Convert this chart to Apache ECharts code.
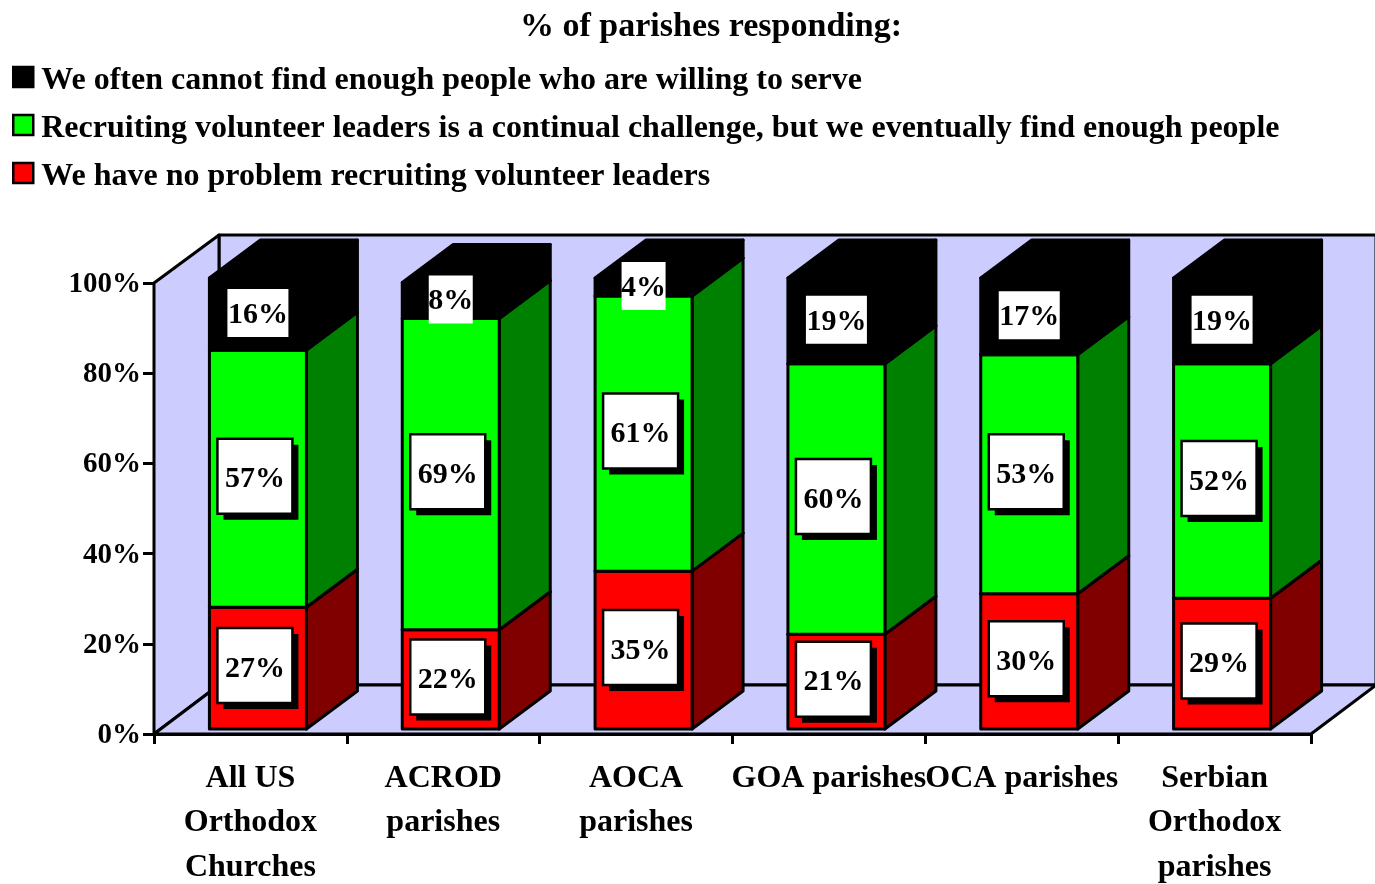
<!DOCTYPE html>
<html><head><meta charset="utf-8">
<style>html,body{margin:0;padding:0;background:#fff}#c{width:1375px;height:884px}</style>
<script src="https://cdn.jsdelivr.net/npm/echarts@6/dist/echarts.min.js"></script>
</head><body><div id="c"></div>
<script>
const titleText = '% of parishes responding:';
const categories = ['All US\nOrthodox\nChurches','ACROD\nparishes','AOCA\nparishes','GOA parishes','OCA parishes','Serbian\nOrthodox\nparishes'];
const seriesNames = ['We often cannot find enough people who are willing to serve',
  'Recruiting volunteer leaders is a continual challenge, but we eventually find enough people',
  'We have no problem recruiting volunteer leaders'];
const noProblem = [27,22,35,21,30,29];
const challenge = [57,69,61,60,53,52];
const cannotFind = [16,8,4,19,17,19];

const FONT = '"Liberation Serif"';
const DX = 51, DY = -38, WALL_DX = 65, WALL_DY = -49, LIFT = -5, SHIFT = 7.5;
const LW = 3;

function stackSeries(name, values, below, front, side, boxed){
  const data = values.map((v,i)=>[i, below[i], below[i]+v, v]);
  return {
    type:'custom', name, data, coordinateSystem:'cartesian2d', clip:false, silent:true,
    itemStyle:{color:front},
    encode:{x:0,y:[1,2]},
    renderItem(params, api){
      const i = api.value(0), a = api.value(1), b = api.value(2), v = api.value(3);
      const w = 97;
      const cx = api.coord([i,0])[0] + SHIFT;
      const y0 = api.coord([i,a])[1] + LIFT, y1 = api.coord([i,b])[1] + LIFT;
      const xl = cx - w/2, xr = cx + w/2;
      const sh = {stroke:'#000', lineWidth:LW, lineJoin:'round'};
      const kids = [
        {type:'polygon', shape:{points:[[xl,y1],[xr,y1],[xr+DX,y1+DY],[xl+DX,y1+DY]]}, style:{fill:side, ...sh}},
        {type:'polygon', shape:{points:[[xr,y0],[xr+DX,y0+DY],[xr+DX,y1+DY],[xr,y1]]}, style:{fill:side, ...sh}},
        {type:'rect', shape:{x:xl,y:y1,width:w,height:y0-y1}, style:{fill:front, ...sh}}
      ];
      const my = (y0+y1)/2;
      const label = v + '%';
      if (boxed){
        const bx = cx-40.5, by = my-40;
        kids.push({type:'rect', z2:100, shape:{x:bx+6,y:by+6,width:75,height:75}, style:{fill:'#000'}});
        kids.push({type:'rect', z2:101, shape:{x:bx,y:by,width:75,height:75}, style:{fill:'#fff',stroke:'#000',lineWidth:2.5}});
        kids.push({type:'text', z2:102, style:{x:bx+37.5,y:by+41,text:label,align:'center',verticalAlign:'middle',fill:'#000',font:'bold 30px '+FONT}});
      } else {
        const bw = v<10 ? 44 : 61;
        const by = my-25;
        kids.push({type:'rect', z2:101, shape:{x:cx-bw/2,y:by,width:bw,height:48}, style:{fill:'#fff'}});
        kids.push({type:'text', z2:102, style:{x:cx,y:by+26,text:label,align:'center',verticalAlign:'middle',fill:'#000',font:'bold 30px '+FONT}});
      }
      return {type:'group', children:kids};
    }
  };
}

const wallSeries = {
  type:'custom', name:'walls', data:[[0,0]], clip:false, silent:true,
  renderItem(params, api){
    const band = api.size([1,0])[0];
    const n = categories.length;
    const x0 = api.coord([0,0])[0] - band/2, x1 = api.coord([n-1,0])[0] + band/2;
    const yb = api.coord([0,0])[1], yt = api.coord([0,100])[1];
    const s = {stroke:'#000', lineWidth:LW, lineJoin:'round'};
    const bx = x0+WALL_DX, bx1 = x1+WALL_DX, byb = yb+WALL_DY, byt = yt+WALL_DY+1;
    return {type:'group', children:[
      {type:'polygon', shape:{points:[[bx,byt],[bx1,byt],[bx1,byb],[bx,byb]]}, style:{fill:'#CCCCFF', ...s}},
      {type:'polygon', shape:{points:[[x0,yt],[bx,byt],[bx,byb],[x0,yb]]}, style:{fill:'#CCCCFF', ...s}},
      {type:'polygon', shape:{points:[[x0,yb],[bx,byb],[bx1,byb],[x1,yb]]}, style:{fill:'#CCCCFF', ...s}}
    ]};
  }
};

const base = noProblem.map(()=>0);
const mid = noProblem.slice();
const upper = noProblem.map((v,i)=>v+challenge[i]);

const chart = echarts.init(document.getElementById('c'), null, {renderer:'canvas'});
chart.setOption({
  animation:false,
  backgroundColor:'#fff',
  title:{text:titleText, left:711, top:10, padding:0, textAlign:'center',
    textStyle:{fontFamily:FONT,fontWeight:'bold',fontSize:34,color:'#000'}},
  legend:{orient:'vertical', left:12, top:63, padding:0, itemWidth:20, itemHeight:28, itemGap:12, selectedMode:false,
    icon:'path://M0,0H20V20H0Z M0,28',
    textStyle:{fontFamily:FONT,fontWeight:'bold',fontSize:32,color:'#000',padding:[0,0,0,3],lineHeight:36},
    itemStyle:{borderColor:'#000',borderWidth:2.5},
    data:[{name:seriesNames[0]},{name:seriesNames[1]},{name:seriesNames[2]}]},
  grid:{left:154,right:64,top:283,bottom:150,containLabel:false,outerBoundsMode:'none'},
  xAxis:{type:'category',data:categories,
    axisLine:{show:true,lineStyle:{color:'#000',width:3}},
    axisTick:{show:true,length:10,lineStyle:{color:'#000',width:3}},
    axisLabel:{interval:0,margin:22,color:'#000',fontFamily:FONT,fontWeight:'bold',fontSize:32,lineHeight:44.5},
    splitLine:{show:false}},
  yAxis:{type:'value',min:0,max:100,interval:20,
    axisLine:{show:true,lineStyle:{color:'#000',width:3}},
    axisTick:{show:true,length:11,lineStyle:{color:'#000',width:3}},
    axisLabel:{margin:13,formatter:'{a|{value}%}',
      rich:{a:{padding:[3,0,0,0],color:'#000',fontFamily:FONT,fontWeight:'bold',fontSize:29}}},
    splitLine:{show:false}},
  series:[
    wallSeries,
    stackSeries(seriesNames[2], noProblem, base, '#FF0000', '#800000', true),
    stackSeries(seriesNames[1], challenge, mid, '#00FF00', '#008000', true),
    stackSeries(seriesNames[0], cannotFind, upper, '#000000', '#000000', false)
  ]
});
</script></body></html>
